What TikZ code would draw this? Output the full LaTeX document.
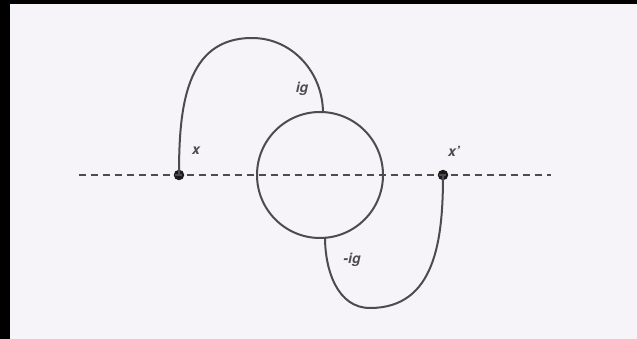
\documentclass[tikz,border=0pt]{standalone}
\usepackage{fontspec}
\setmainfont{TeX Gyre Heros}
\begin{document}
\begin{tikzpicture}[x=1pt,y=-1pt,
  line/.style={draw=black!70, line width=2pt},
  dot/.style={circle, fill=black!90, inner sep=0pt, minimum size=10.5pt},
  lbl/.style={font=\fontsize{14}{14}\selectfont\bfseries\itshape, text=black!70, inner sep=0pt}]
\definecolor{bgc}{RGB}{246,244,248}
\fill[bgc] (0,0) rectangle (637,339);
\useasboundingbox (0,0) rectangle (637,339);
\fill[black] (0,0) rectangle (10,339);
\fill[black] (0,0) rectangle (637,4);
\coordinate (L) at (79,175);
\coordinate (R) at (551,175);
\node[dot] (x) at (179,175) {};
\node[dot] (xp) at (443,175) {};
\node[circle, line, minimum size=126pt, inner sep=0pt] (c) at (320,175) {};
\draw[line, dash pattern=on 7pt off 5pt, line width=1.8pt] (L) -- (R);
\coordinate (top) at (252,38);
\coordinate (ctop) at (323,113);
\coordinate (bot) at (370,308);
\coordinate (cbot) at (325,237);
\draw[line] (x.center) to[out=90,in=180,looseness=1.1] (top) to[out=0,in=90] (ctop);
\draw[line] (xp.center) to[out=-90,in=0,looseness=1.1] (bot) to[out=180,in=-90] (cbot);
\node[lbl] at (196,151) {x};
\node[lbl] at (302,89) {ig};
\node[lbl] at (454,151) {x'};
\node[lbl] at (352,260) {-ig};
\end{tikzpicture}
\end{document}
